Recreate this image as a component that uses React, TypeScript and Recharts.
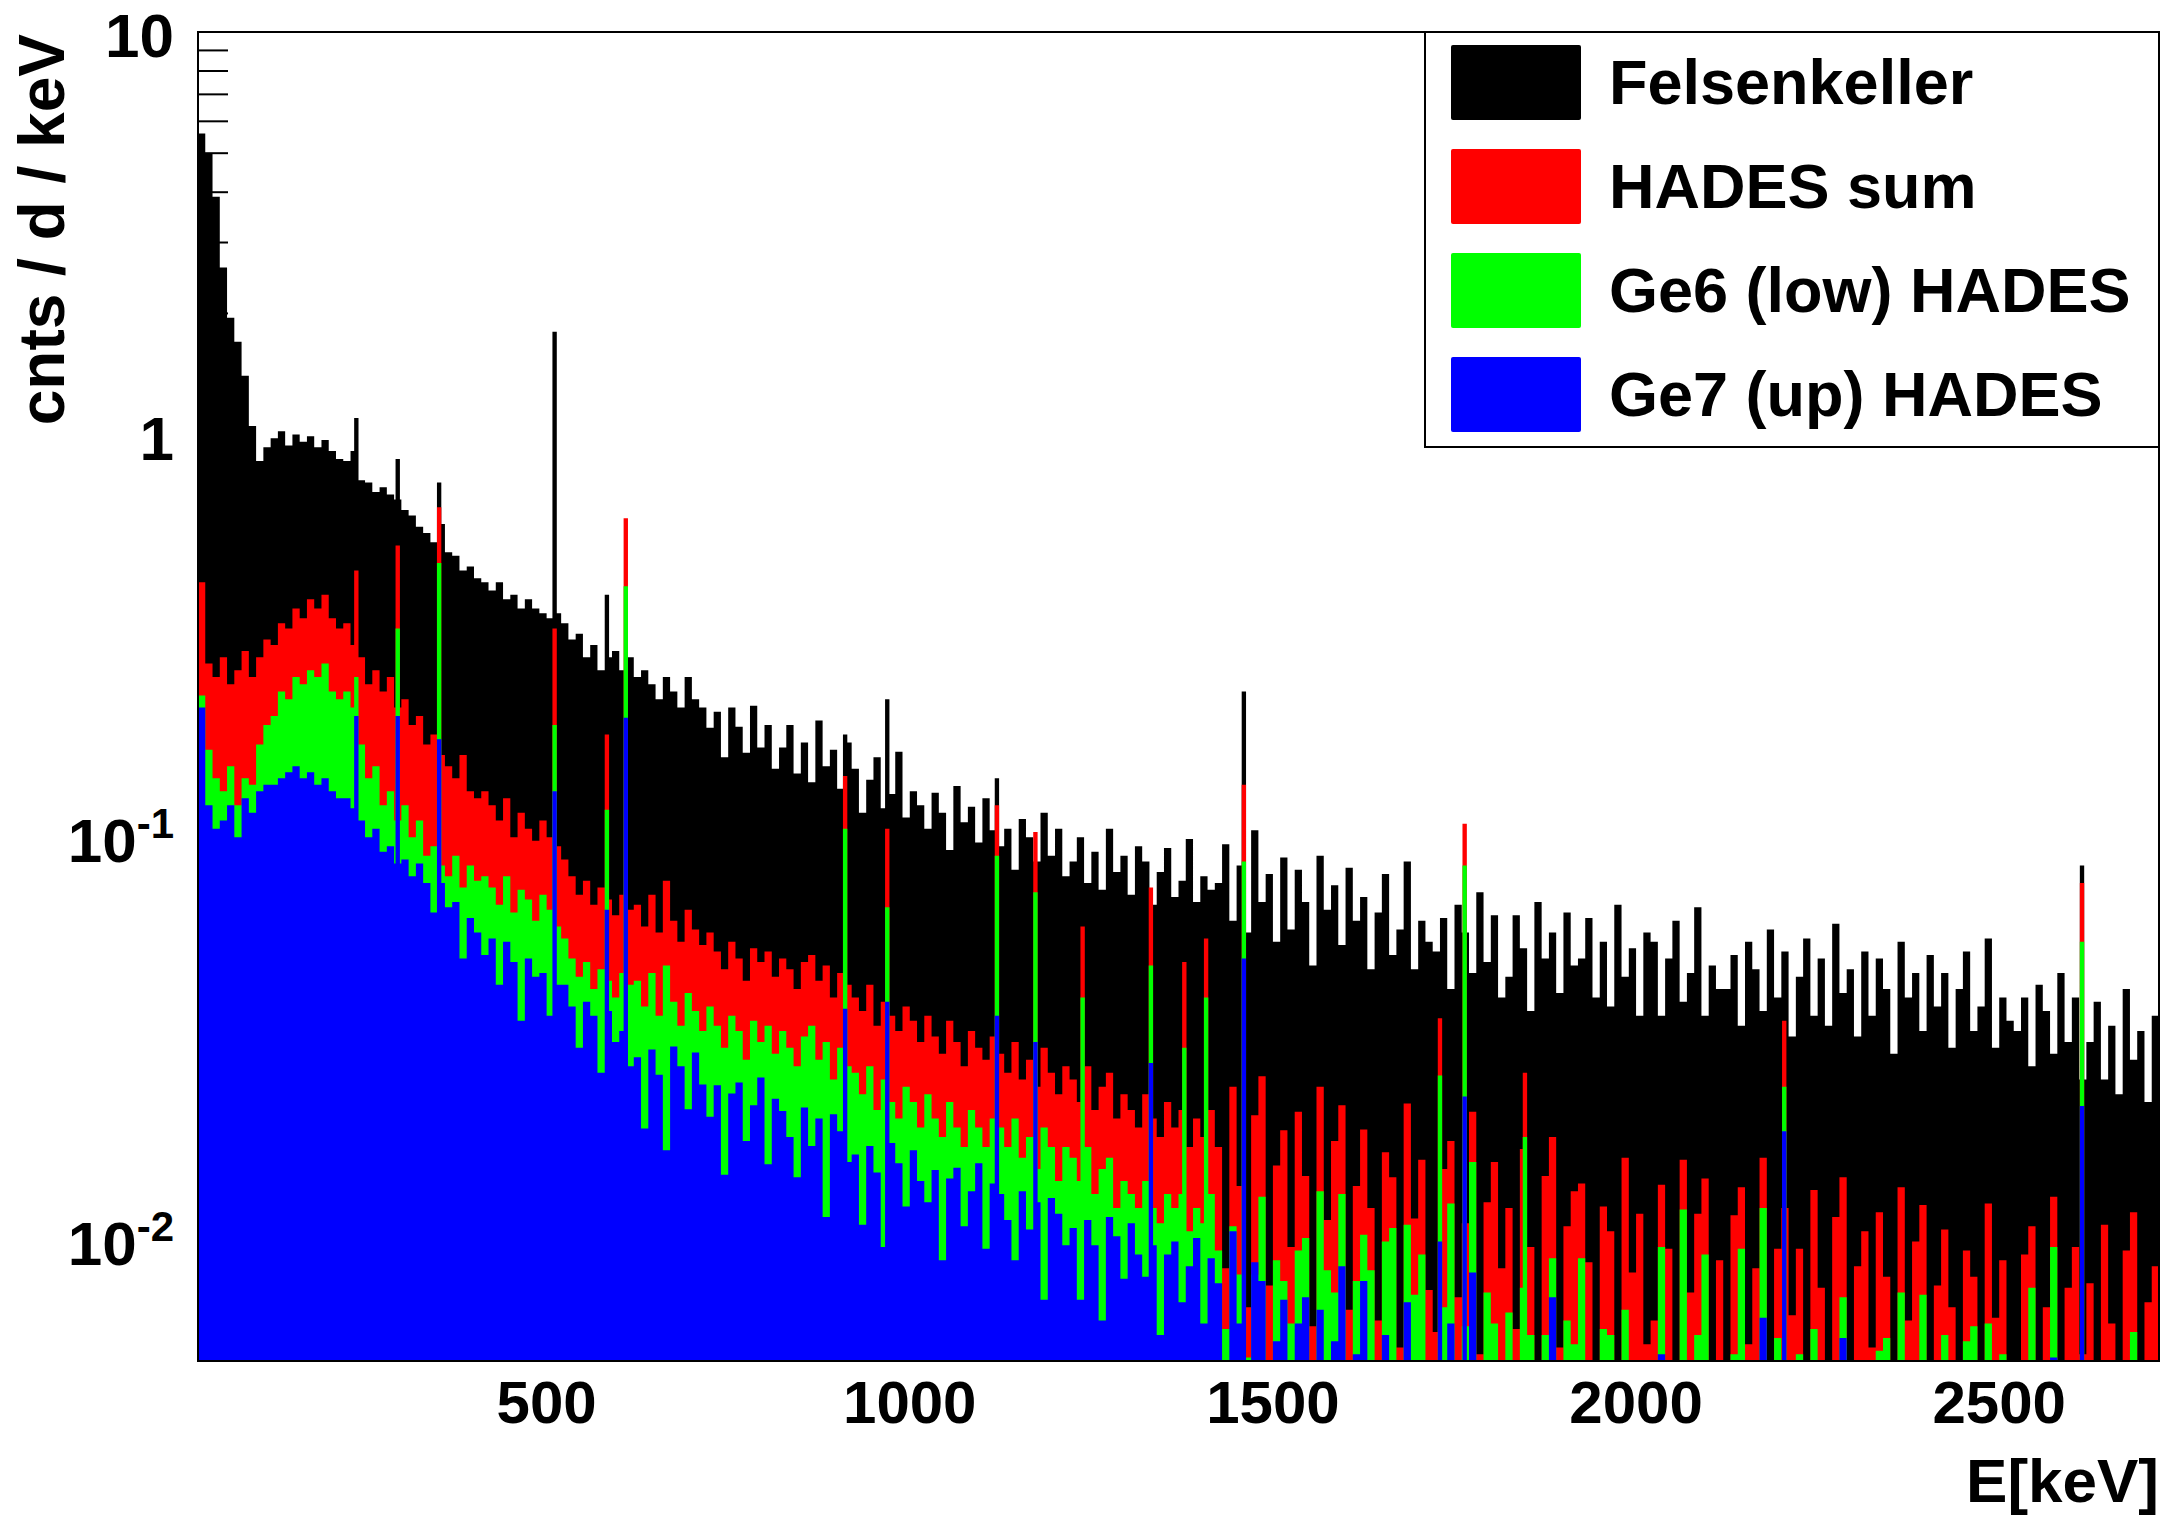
import { Area, ComposedChart, ReferenceArea, XAxis, YAxis } from 'recharts';

const E_MIN = 20;
const E_MAX = 2720;
const BIN_WIDTH = 10;
const Y_MIN = 0.005;
const Y_MAX = 10;
const W = 2165;
const H = 1517;
const MARGIN = { top: 32, right: 6, bottom: 0, left: 0 };
const FONT = "'Liberation Sans', Arial, Helvetica, sans-serif";

// cnts / d / keV in 10 keV bins, first bin starts at 20 keV
const felsenkeller = [
  5.6, 5.0, 3.9, 2.6, 1.95, 1.7, 1.4, 1.05, 0.86, 0.93,
  0.98, 1.02, 0.94, 1.0, 0.96, 0.99, 0.93, 0.97, 0.91, 0.87,
  0.86, 0.91, 0.77, 0.76, 0.72, 0.74, 0.71, 0.69, 0.65, 0.63,
  0.59, 0.57, 0.54, 0.6, 0.51, 0.5, 0.46, 0.47, 0.44, 0.43,
  0.41, 0.43, 0.39, 0.4, 0.37, 0.39, 0.37, 0.36, 0.35, 0.36,
  0.34, 0.31, 0.32, 0.28, 0.3, 0.26, 0.28, 0.29, 0.26, 0.28,
  0.25, 0.26, 0.24, 0.22, 0.25, 0.23, 0.21, 0.25, 0.22, 0.21,
  0.187, 0.205, 0.158, 0.21, 0.188, 0.162, 0.212, 0.167, 0.19, 0.148,
  0.167, 0.19, 0.144, 0.172, 0.137, 0.195, 0.15, 0.165, 0.132, 0.172,
  0.148, 0.115, 0.139, 0.158, 0.118, 0.128, 0.163, 0.112, 0.13, 0.12,
  0.105, 0.129, 0.115, 0.093, 0.134, 0.109, 0.119, 0.097, 0.125, 0.104,
  0.095, 0.105, 0.083, 0.111, 0.1, 0.087, 0.115, 0.09, 0.105, 0.08,
  0.087, 0.1, 0.077, 0.092, 0.074, 0.105, 0.082, 0.09, 0.072, 0.095,
  0.087, 0.068, 0.082, 0.094, 0.071, 0.078, 0.099, 0.069, 0.08, 0.074,
  0.077, 0.096, 0.062, 0.085, 0.058, 0.104, 0.069, 0.081, 0.055, 0.089,
  0.059, 0.083, 0.069, 0.048, 0.09, 0.066, 0.076, 0.054, 0.084, 0.062,
  0.071, 0.047, 0.065, 0.081, 0.051, 0.059, 0.087, 0.047, 0.062, 0.055,
  0.052, 0.063, 0.042, 0.068, 0.058, 0.046, 0.073, 0.049, 0.064, 0.04,
  0.045, 0.064, 0.053, 0.037, 0.069, 0.05, 0.058, 0.041, 0.065, 0.048,
  0.05, 0.063, 0.04, 0.055, 0.038, 0.068, 0.045, 0.053, 0.036, 0.058,
  0.055, 0.036, 0.05, 0.062, 0.039, 0.046, 0.067, 0.036, 0.048, 0.042,
  0.042, 0.051, 0.034, 0.055, 0.047, 0.037, 0.059, 0.04, 0.052, 0.032,
  0.045, 0.056, 0.036, 0.05, 0.034, 0.061, 0.041, 0.047, 0.032, 0.052,
  0.036, 0.05, 0.042, 0.029, 0.055, 0.04, 0.046, 0.033, 0.051, 0.038,
  0.046, 0.03, 0.042, 0.052, 0.033, 0.038, 0.056, 0.03, 0.04, 0.035,
  0.033, 0.04, 0.027, 0.043, 0.037, 0.029, 0.046, 0.031, 0.04, 0.025,
  0.031, 0.039, 0.025, 0.034, 0.023, 0.042, 0.028, 0.033, 0.022, 0.036,
];

const hadesSum = [
  0.43, 0.27, 0.25, 0.28, 0.24, 0.26, 0.29, 0.25, 0.28, 0.31,
  0.3, 0.34, 0.33, 0.37, 0.35, 0.39, 0.37, 0.4, 0.35, 0.33,
  0.34, 0.3, 0.28, 0.24, 0.26, 0.23, 0.25, 0.21, 0.22, 0.19,
  0.2, 0.17, 0.18, 0.16, 0.15, 0.14, 0.16, 0.13, 0.125, 0.13,
  0.12, 0.11, 0.125, 0.1, 0.115, 0.105, 0.098, 0.11, 0.1, 0.095,
  0.088, 0.08, 0.072, 0.078, 0.068, 0.075, 0.07, 0.064, 0.072, 0.066,
  0.068, 0.06, 0.072, 0.058, 0.078, 0.062, 0.055, 0.066, 0.059, 0.054,
  0.058, 0.052, 0.047, 0.055, 0.05, 0.044, 0.053, 0.049, 0.052, 0.045,
  0.05, 0.047, 0.042, 0.049, 0.051, 0.044, 0.048, 0.04, 0.046, 0.043,
  0.04, 0.037, 0.043, 0.034, 0.039, 0.036, 0.033, 0.038, 0.035, 0.031,
  0.036, 0.032, 0.029, 0.035, 0.031, 0.027, 0.033, 0.03, 0.028, 0.032,
  0.029, 0.026, 0.031, 0.025, 0.028, 0.024, 0.03, 0.026, 0.023, 0.027,
  0.025, 0.022, 0.027, 0.021, 0.024, 0.026, 0.02, 0.023, 0.021, 0.019,
  0.023, 0.02, 0.018, 0.022, 0.019, 0.021, 0.017, 0.02, 0.018, 0.021,
  0.017, 0.0085, 0.024, 0.0136, 0.0068, 0.0204, 0.0255, 0.0077, 0.0153, 0.0187,
  0.0096, 0.0208, 0.0144, 0.0061, 0.024, 0.0112, 0.0176, 0.0216, 0.0067, 0.0136,
  0.0188, 0.012, 0.0063, 0.0165, 0.0143, 0.0054, 0.0218, 0.0113, 0.0158, 0.0075,
  0.0059, 0.015, 0.0176, 0.0072, 0.011, 0.0208, 0.0052, 0.0124, 0.0156, 0.0085,
  0.012, 0.006, 0.0168, 0.0096, 0.0048, 0.0144, 0.018, 0.0054, 0.0108, 0.0132,
  0.0138, 0.0088, 0.0046, 0.0121, 0.0105, 0.004, 0.016, 0.0083, 0.0116, 0.0055,
  0.0063, 0.0137, 0.0095, 0.004, 0.0158, 0.0074, 0.0116, 0.0142, 0.0044, 0.0089,
  0.0045, 0.0115, 0.0135, 0.0055, 0.0085, 0.016, 0.004, 0.0095, 0.012, 0.0065,
  0.0095, 0.0048, 0.0133, 0.0076, 0.0038, 0.0114, 0.0143, 0.0043, 0.0086, 0.0105,
  0.0054, 0.0117, 0.0081, 0.0034, 0.0135, 0.0063, 0.0099, 0.0122, 0.0038, 0.0077,
  0.0106, 0.0068, 0.0036, 0.0094, 0.0081, 0.0031, 0.0123, 0.0064, 0.0089, 0.0043,
  0.0036, 0.0092, 0.0108, 0.0044, 0.0068, 0.0128, 0.0032, 0.0076, 0.0096, 0.0052,
  0.0078, 0.0039, 0.0109, 0.0062, 0.0031, 0.0094, 0.0117, 0.0035, 0.007, 0.0086,
];

const ge6Low = [
  0.225, 0.165, 0.14, 0.13, 0.15, 0.12, 0.14, 0.135, 0.17, 0.19,
  0.2, 0.23, 0.22, 0.25, 0.24, 0.26, 0.25, 0.27, 0.23, 0.22,
  0.23, 0.21, 0.17, 0.14, 0.15, 0.12, 0.13, 0.11, 0.12, 0.1,
  0.11, 0.09, 0.095, 0.085, 0.08, 0.09, 0.075, 0.085, 0.078, 0.08,
  0.075, 0.068, 0.08, 0.065, 0.074, 0.07, 0.062, 0.072, 0.066, 0.06,
  0.056, 0.05, 0.045, 0.049, 0.042, 0.047, 0.044, 0.04, 0.046, 0.043,
  0.044, 0.038, 0.046, 0.036, 0.048, 0.039, 0.034, 0.041, 0.037, 0.033,
  0.038, 0.034, 0.03, 0.036, 0.033, 0.028, 0.035, 0.031, 0.034, 0.029,
  0.033, 0.03, 0.027, 0.032, 0.034, 0.028, 0.031, 0.025, 0.03, 0.027,
  0.026, 0.023, 0.027, 0.021, 0.025, 0.022, 0.02, 0.024, 0.022, 0.019,
  0.023, 0.02, 0.018, 0.022, 0.019, 0.017, 0.021, 0.019, 0.017, 0.02,
  0.019, 0.017, 0.02, 0.016, 0.018, 0.015, 0.019, 0.017, 0.014, 0.017,
  0.016, 0.014, 0.017, 0.013, 0.015, 0.016, 0.012, 0.014, 0.013, 0.012,
  0.014, 0.012, 0.011, 0.013, 0.012, 0.013, 0.0105, 0.012, 0.011, 0.013,
  0.0094, 0.006, 0.0108, 0.0082, 0.0051, 0.0082, 0.0128, 0.005, 0.0089, 0.0079,
  0.0062, 0.0094, 0.0101, 0.0031, 0.0132, 0.0084, 0.0074, 0.013, 0.0027, 0.0079,
  0.0103, 0.0084, 0.0028, 0.0099, 0.0107, 0.0022, 0.0109, 0.0073, 0.0092, 0.0032,
  0.0038, 0.0068, 0.0123, 0.0036, 0.0061, 0.0156, 0.0022, 0.0074, 0.0062, 0.0049,
  0.0066, 0.0042, 0.0076, 0.0058, 0.0036, 0.0058, 0.009, 0.0035, 0.0063, 0.0055,
  0.009, 0.004, 0.0032, 0.006, 0.0058, 0.003, 0.0067, 0.005, 0.0046, 0.0032,
  0.0035, 0.0096, 0.0043, 0.0024, 0.0119, 0.003, 0.0058, 0.0092, 0.0026, 0.0037,
  0.0029, 0.0052, 0.0095, 0.0028, 0.0047, 0.012, 0.0017, 0.0057, 0.0048, 0.0038,
  0.0052, 0.0034, 0.006, 0.0046, 0.0029, 0.0046, 0.0072, 0.0028, 0.005, 0.0044,
  0.0035, 0.0053, 0.0057, 0.0017, 0.0074, 0.0047, 0.0042, 0.0073, 0.0015, 0.0045,
  0.0058, 0.0048, 0.0016, 0.0056, 0.0061, 0.0012, 0.0062, 0.0042, 0.0052, 0.0018,
  0.0023, 0.0041, 0.0076, 0.0022, 0.0037, 0.0096, 0.0013, 0.0046, 0.0038, 0.003,
  0.0043, 0.0027, 0.0049, 0.0037, 0.0023, 0.0038, 0.0059, 0.0023, 0.0041, 0.0036,
];

const ge7Up = [
  0.21, 0.12, 0.105, 0.11, 0.12, 0.1, 0.125, 0.115, 0.13, 0.135,
  0.135, 0.14, 0.145, 0.15, 0.14, 0.145, 0.135, 0.14, 0.13, 0.125,
  0.125, 0.118, 0.11, 0.1, 0.105, 0.092, 0.095, 0.086, 0.088, 0.08,
  0.086, 0.077, 0.065, 0.077, 0.067, 0.069, 0.05, 0.063, 0.058, 0.051,
  0.056, 0.043, 0.055, 0.049, 0.035, 0.05, 0.045, 0.046, 0.036, 0.043,
  0.043, 0.038, 0.03, 0.039, 0.036, 0.026, 0.037, 0.031, 0.033, 0.027,
  0.0284, 0.0189, 0.0297, 0.0257, 0.0167, 0.0302, 0.027, 0.0211, 0.0292, 0.0243,
  0.0202, 0.0242, 0.0145, 0.0231, 0.0246, 0.0176, 0.0216, 0.0253, 0.0154, 0.0224,
  0.0209, 0.018, 0.0143, 0.0213, 0.0171, 0.02, 0.0114, 0.0205, 0.0186, 0.0156,
  0.0163, 0.0109, 0.0171, 0.0147, 0.0096, 0.0174, 0.0155, 0.0121, 0.0167, 0.014,
  0.0124, 0.0149, 0.0089, 0.0142, 0.0151, 0.0108, 0.0132, 0.0155, 0.0095, 0.0138,
  0.013, 0.0112, 0.0089, 0.0132, 0.0106, 0.0124, 0.0071, 0.0127, 0.0116, 0.0097,
  0.0107, 0.0071, 0.0112, 0.0097, 0.0063, 0.0114, 0.0102, 0.008, 0.011, 0.0092,
  0.0081, 0.0097, 0.0058, 0.0092, 0.0099, 0.007, 0.0086, 0.0101, 0.0062, 0.009,
  0.0078, 0.0042, 0.0105, 0.0062, 0.0035, 0.0088, 0.0079, 0.0048, 0.0056, 0.0071,
  0.004, 0.0062, 0.0072, 0.0021, 0.0067, 0.005, 0.0056, 0.0086, 0.0017, 0.0052,
  0.0079, 0.0036, 0.0032, 0.0058, 0.004, 0.0024, 0.007, 0.0045, 0.004, 0.0029,
  0.0018, 0.003, 0.0062, 0.0018, 0.0017, 0.0083, 0.0011, 0.0037, 0.0028, 0.0024,
  0.0026, 0.0023, 0.003, 0.0029, 0.0012, 0.0022, 0.0072, 0.0011, 0.0035, 0.0032,
  0.0041, 0.0018, 0.0016, 0.003, 0.0016, 0.0016, 0.0035, 0.0025, 0.0021, 0.0015,
  0.0014, 0.0052, 0.0017, 0.0012, 0.004, 0.0011, 0.0046, 0.0028, 0.0014, 0.0021,
  0.0014, 0.0023, 0.0047, 0.0014, 0.0013, 0.0064, 0.0009, 0.0029, 0.0022, 0.0018,
  0.0021, 0.0018, 0.0024, 0.0023, 0.001, 0.0017, 0.0057, 0.0009, 0.0028, 0.0025,
  0.0016, 0.0023, 0.0028, 0.0009, 0.002, 0.0025, 0.0022, 0.0037, 0.0007, 0.0022,
  0.0023, 0.0026, 0.0006, 0.0028, 0.002, 0.0005, 0.0049, 0.0013, 0.0028, 0.001,
  0.0011, 0.0018, 0.0038, 0.0011, 0.001, 0.0051, 0.0007, 0.0023, 0.0017, 0.0015,
  0.0017, 0.0015, 0.002, 0.0019, 0.0008, 0.0014, 0.0047, 0.0007, 0.0022, 0.0021,
];

// gamma lines on top of the continuum; null = line not visible in that spectrum
const peakEnergies = [238, 295, 352, 511, 583, 609, 911, 969, 1120, 1173, 1238, 1332, 1378, 1408, 1460, 1730, 1764, 1847, 2204, 2614];
const peakFelsenkeller = [1.1, 0.87, 0.76, 1.8, 0.4, null, 0.18, 0.22, 0.14, null, null, null, null, null, 0.23, null, null, null, null, 0.085];
const peakHadesSum = [0.46, 0.53, 0.66, 0.33, 0.18, 0.62, 0.142, 0.105, 0.12, 0.103, 0.06, 0.075, 0.049, 0.056, 0.135, 0.0355, 0.108, 0.026, 0.035, 0.077];
const peakGe6Low = [0.25, 0.33, 0.48, 0.19, 0.117, 0.42, 0.105, 0.067, 0.09, 0.073, 0.04, 0.048, 0.03, 0.04, 0.087, 0.0256, 0.085, 0.018, 0.024, 0.055];
const peakGe7Up = [0.2, 0.2, 0.175, 0.13, 0.066, 0.198, 0.0375, 0.039, 0.036, 0.031, null, 0.0275, null, null, 0.05, 0.0099, 0.0227, null, 0.0186, 0.0215];
const PEAK_HALF_WIDTH = 3;

const X_TICKS = [500, 1000, 1500, 2000, 2500];
const Y_TICKS = [
  0.005, 0.006, 0.007, 0.008, 0.009,
  0.01, 0.02, 0.03, 0.04, 0.05, 0.06, 0.07, 0.08, 0.09,
  0.1, 0.2, 0.3, 0.4, 0.5, 0.6, 0.7, 0.8, 0.9,
  1, 2, 3, 4, 5, 6, 7, 8, 9, 10,
];
const Y_DECADES = [
  { value: 10, base: '10', exp: '' },
  { value: 1, base: '1', exp: '' },
  { value: 0.1, base: '10', exp: '-1' },
  { value: 0.01, base: '10', exp: '-2' },
];

const SERIES = [
  { key: 'felsenkeller', name: 'Felsenkeller', color: '#000000', bins: felsenkeller, peaks: peakFelsenkeller },
  { key: 'hadesSum', name: 'HADES sum', color: '#ff0000', bins: hadesSum, peaks: peakHadesSum },
  { key: 'ge6Low', name: 'Ge6 (low) HADES', color: '#00ff00', bins: ge6Low, peaks: peakGe6Low },
  { key: 'ge7Up', name: 'Ge7 (up) HADES', color: '#0000ff', bins: ge7Up, peaks: peakGe7Up },
];

function valueAt(bins: number[], peaks: (number | null)[], e: number) {
  const idx = Math.min(Math.floor((e - E_MIN) / BIN_WIDTH), bins.length - 1);
  let v = bins[idx];
  peakEnergies.forEach((pe, i) => {
    const p = peaks[i];
    if (p != null && e >= pe - PEAK_HALF_WIDTH && e < pe + PEAK_HALF_WIDTH) v = Math.max(v, p);
  });
  return v;
}

// step points: every bin edge plus the edges of each line
function buildRows() {
  const edges = new Set<number>();
  felsenkeller.forEach((_, i) => edges.add(E_MIN + i * BIN_WIDTH));
  peakEnergies.forEach((pe) => {
    edges.add(pe - PEAK_HALF_WIDTH);
    edges.add(pe + PEAK_HALF_WIDTH);
  });
  const sorted = [...edges].sort((a, b) => a - b);
  const rows = sorted.map((e) => {
    const row: Record<string, number> = { e };
    SERIES.forEach((s) => {
      row[s.key] = valueAt(s.bins, s.peaks, e);
    });
    return row;
  });
  rows.push({ ...rows[rows.length - 1], e: E_MAX });
  return rows;
}

const rows = buildRows();

const isDecade = (v: number) => Y_DECADES.find((d) => Math.abs(d.value - v) < 1e-9);

// tick marks point into the frame; they sit behind the spectra
function YTickMark(props: any) {
  const { x, y, payload } = props;
  return <line x1={x} y1={y} x2={x + (isDecade(payload.value) ? 58 : 30)} y2={y} stroke="#000" strokeWidth={2} />;
}

function YTickLabel(props: any) {
  const { x, y, payload } = props;
  const decade = isDecade(payload.value);
  if (!decade) return <g />;
  return (
    <text x={x - 24} y={y + 25} textAnchor="end" fontFamily={FONT} fontWeight="bold" fontSize={62} fill="#000">
      {decade.base}
      {decade.exp && (
        <tspan dy={-24} fontSize={42}>
          {decade.exp}
        </tspan>
      )}
    </text>
  );
}

function XTickLabel(props: any) {
  const { x, y, payload } = props;
  return (
    <text x={x} y={y + 62} textAnchor="middle" fontFamily={FONT} fontWeight="bold" fontSize={60} fill="#000">
      {payload.value}
    </text>
  );
}

const yAxisProps = {
  type: 'number' as const,
  scale: 'log' as const,
  domain: [Y_MIN, Y_MAX],
  allowDataOverflow: true,
  ticks: Y_TICKS,
  interval: 0,
  width: 198,
  tickLine: false,
  axisLine: false,
  tickSize: 0,
  tickMargin: 0,
};

const xAxisProps = {
  dataKey: 'e',
  type: 'number' as const,
  domain: [E_MIN, E_MAX],
  allowDataOverflow: true,
  ticks: X_TICKS,
  interval: 0,
  height: 156,
  tickLine: false,
  axisLine: false,
  tickSize: 0,
  tickMargin: 0,
};

function Legend() {
  return (
    <div
      style={{
        position: 'absolute',
        left: 1424,
        top: 31,
        width: 736,
        height: 417,
        boxSizing: 'border-box',
        border: '2px solid #000',
        background: '#fff',
      }}
    >
      {SERIES.map((s, i) => (
        <div key={s.key}>
          <div
            style={{
              position: 'absolute',
              left: 25,
              top: 12 + i * 104,
              width: 130,
              height: 75,
              background: s.color,
              borderRadius: 2,
            }}
          />
          <div
            style={{
              position: 'absolute',
              left: 183,
              top: 12 + i * 104,
              height: 75,
              lineHeight: '75px',
              fontFamily: FONT,
              fontWeight: 'bold',
              fontSize: 63,
              whiteSpace: 'nowrap',
              color: '#000',
            }}
          >
            {s.name}
          </div>
        </div>
      ))}
    </div>
  );
}

export default function App() {
  return (
    <div style={{ position: 'absolute', left: 0, top: 0, width: W, height: H, background: '#fff', overflow: 'hidden' }}>
      {/* back layer: only the y tick marks */}
      <div style={{ position: 'absolute', left: 0, top: 0 }}>
        <ComposedChart width={W} height={H} data={rows} margin={MARGIN}>
          <YAxis {...yAxisProps} tick={(p: any) => <YTickMark {...p} />} />
          <XAxis {...xAxisProps} tick={false} />
          <Area dataKey="felsenkeller" type="stepAfter" baseValue={Y_MIN} fill="none" fillOpacity={0} stroke="none" isAnimationActive={false} />
        </ComposedChart>
      </div>
      {/* front layer: spectra, frame and labels */}
      <div style={{ position: 'absolute', left: 0, top: 0 }}>
        <ComposedChart width={W} height={H} data={rows} margin={MARGIN}>
          <YAxis {...yAxisProps} tick={(p: any) => <YTickLabel {...p} />} />
          <XAxis {...xAxisProps} tick={(p: any) => <XTickLabel {...p} />} />
          {SERIES.map((s) => (
            <Area
              key={s.key}
              dataKey={s.key}
              name={s.name}
              type="stepAfter"
              baseValue={Y_MIN}
              fill={s.color}
              fillOpacity={1}
              stroke="none"
              dot={false}
              activeDot={false}
              isAnimationActive={false}
            />
          ))}
          <ReferenceArea
            x1={E_MIN}
            x2={E_MAX}
            y1={Y_MIN}
            y2={Y_MAX}
            fill="none"
            fillOpacity={0}
            stroke="#000"
            strokeWidth={2}
            ifOverflow="visible"
          />
        </ComposedChart>
      </div>
      <svg width={W} height={H} style={{ position: 'absolute', left: 0, top: 0, pointerEvents: 'none' }}>
        <text
          transform="translate(64, 34) rotate(-90)"
          textAnchor="end"
          fontFamily={FONT}
          fontWeight="bold"
          fontSize={64}
          fill="#000"
        >
          cnts / d / keV
        </text>
        <text x={2159} y={1502} textAnchor="end" fontFamily={FONT} fontWeight="bold" fontSize={62} fill="#000">
          E[keV]
        </text>
      </svg>
      <Legend />
    </div>
  );
}
